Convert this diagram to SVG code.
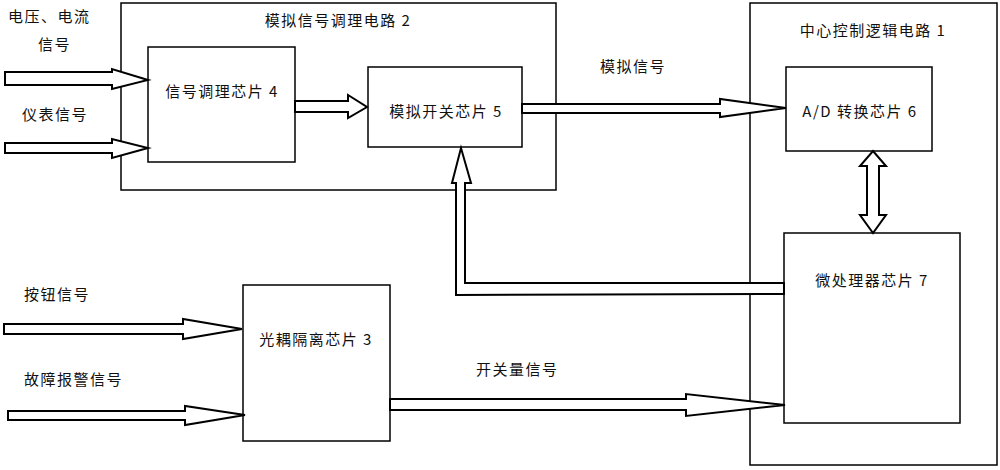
<svg xmlns="http://www.w3.org/2000/svg" width="1000" height="470" viewBox="0 0 1000 470">
<style>
rect{fill:#fff;stroke:#000;stroke-width:1.5}
.a{fill:#fff;stroke:#000;stroke-width:2;stroke-linejoin:miter}
text{font-family:"Noto Sans CJK SC","Liberation Serif",serif;font-size:15px;fill:#111;letter-spacing:1.5px}
</style>
<rect width="1000" height="470" style="fill:#fff;stroke:none"/>
<g id="outer2"><rect x="121" y="3" width="435" height="187"/><text x="338" y="26" text-anchor="middle">模拟信号调理电路 2</text></g>
<g id="outer1"><rect x="750" y="3" width="247" height="462"/><text x="873" y="36" text-anchor="middle">中心控制逻辑电路 1</text></g>
<g id="chip4"><rect x="148" y="47" width="147" height="115"/><text x="222" y="97" text-anchor="middle">信号调理芯片 4</text></g>
<g id="chip5"><rect x="368" y="67" width="154" height="80"/><text x="446" y="117" text-anchor="middle">模拟开关芯片 5</text></g>
<g id="chip6"><rect x="786" y="67" width="146" height="84"/><text x="860" y="117" text-anchor="middle">A/D 转换芯片 6</text></g>
<g id="chip7"><rect x="784" y="233" width="176" height="190"/><text x="872" y="286" text-anchor="middle">微处理器芯片 7</text></g>
<g id="chip3"><rect x="243" y="285" width="147" height="156"/><text x="316" y="345" text-anchor="middle">光耦隔离芯片 3</text></g>
<g id="labels">
<text x="8" y="22">电压、电流</text><text x="38" y="50">信号</text>
<text x="22" y="120">仪表信号</text>
<text x="24" y="300">按钮信号</text>
<text x="24" y="385">故障报警信号</text>
<text x="600" y="72">模拟信号</text>
<text x="476" y="375">开关量信号</text>
</g>
<g id="connectors">
<polygon class="a" points="5,72 112,72 112,69 148,80 112,89 112,85 5,85"/>
<polygon class="a" points="5,143 112,143 112,139 148,148 112,158 112,153 5,153"/>
<polygon class="a" points="295,101 348,101 348,95 367,107 348,118 348,112 295,112"/>
<polygon class="a" points="522,104 720,104 720,99 786,108 720,117 720,113 522,113"/>
<polygon class="a" points="456,295 456,183 452,183 461,148 471,183 465,183 465,283 784,283 784,294"/>
<polygon class="a" points="4,324 183,324 183,319 242,329 183,339 183,334 4,334"/>
<polygon class="a" points="8,411 185,411 185,406 245,415 185,425 185,420 8,420"/>
<polygon class="a" points="390,399 686,399 686,394 785,405 686,416 686,410 390,410"/>
<polygon class="a" points="873,151 886,166 879,166 879,215 886,215 873,233 860,215 867,215 867,166 860,166"/>
</g>
</svg>
